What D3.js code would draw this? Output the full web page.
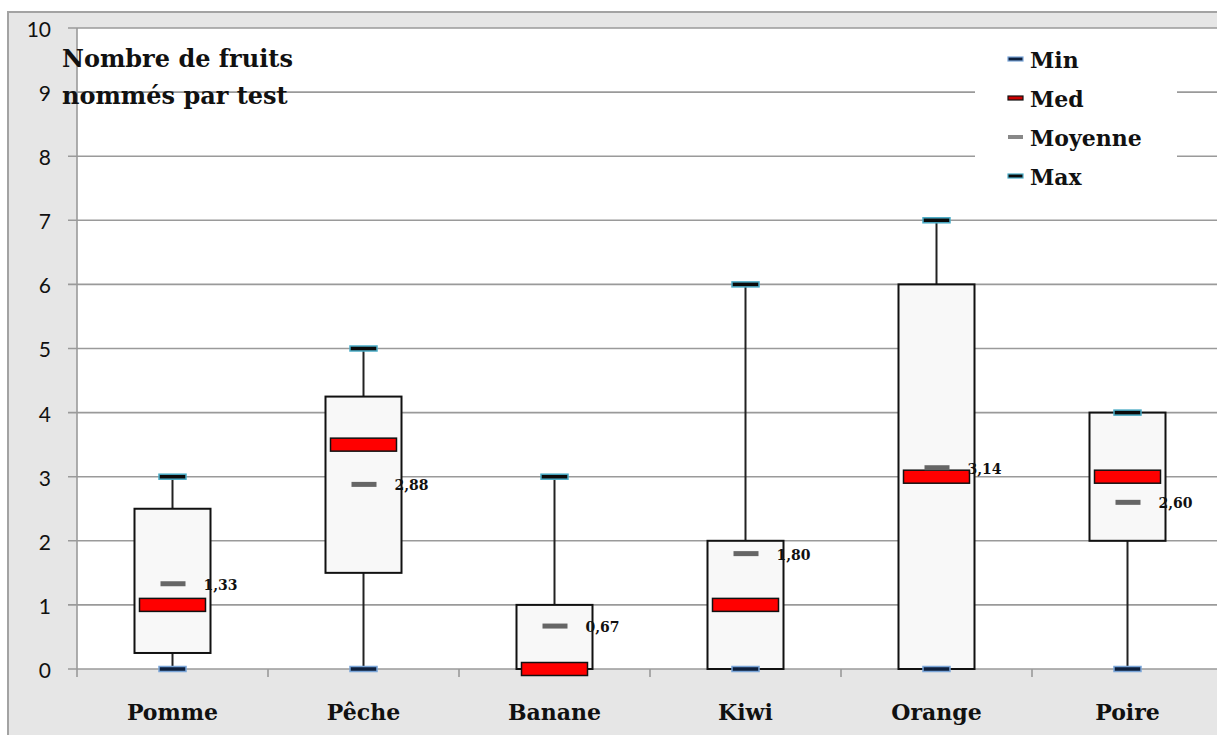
<!DOCTYPE html>
<html><head><meta charset="utf-8">
<script src="https://cdn.jsdelivr.net/npm/d3@7"></script>
<style>body{margin:0;background:#fff}svg{display:block}</style>
</head><body>
<svg id="c" width="1217" height="735"></svg>
<script>
const categories = ["Pomme","Pêche","Banane","Kiwi","Orange","Poire"];
const minVals  = [0, 0, 0, 0, 0, 0];
const q1Vals   = [0.25, 1.5, 0, 0, 0, 2];
const medVals  = [1, 3.5, 0, 1, 3, 3];
const meanVals = [1.33, 2.88, 0.67, 1.80, 3.14, 2.60];
const q3Vals   = [2.5, 4.25, 1, 2, 6, 4];
const maxVals  = [3, 5, 3, 6, 7, 4];
const yTicks = [0,1,2,3,4,5,6,7,8,9,10];
const legendLabels = ["Min","Med","Moyenne","Max"];

const svg = d3.select("#c");
const W = 1217, H = 735;
const plotL = 77, plotT = 28, plotB = 669, band = 191;
const serif = "'DejaVu Serif','Liberation Serif',serif";

// outer frame
svg.append("rect").attr("x",8).attr("y",12).attr("width",W).attr("height",H)
  .attr("fill","#e6e6e6").attr("stroke","#a3a3a3").attr("stroke-width",2);

const x = d3.scaleBand().domain(categories).range([plotL, plotL + band*categories.length]).padding(0);
const y = d3.scaleLinear().domain([0,10]).range([plotB, plotT]);

svg.append("rect").attr("x",plotL).attr("y",plotT).attr("width",W-plotL+10).attr("height",plotB-plotT).attr("fill","#fff");

// grid
svg.append("g").selectAll("line").data(yTicks).join("line")
  .attr("x1",plotL-9).attr("x2",W).attr("y1",d=>y(d)).attr("y2",d=>y(d))
  .attr("stroke","#9a9a9a").attr("stroke-width",1.6);

// y axis
const yAxis = svg.append("g").attr("transform",`translate(${plotL},0)`)
  .call(d3.axisLeft(y).tickValues(yTicks).tickSize(0).tickPadding(26).tickFormat(d3.format("d")));
yAxis.select(".domain").remove();
yAxis.selectAll("text").attr("font-family","Lato,'Open Sans',sans-serif").attr("font-size",21).attr("fill","#111").attr("dy","0.4em");
svg.append("line").attr("x1",plotL).attr("x2",plotL).attr("y1",plotT).attr("y2",plotB+8)
  .attr("stroke","#9a9a9a").attr("stroke-width",1.6);

// x axis
const xAxis = svg.append("g").attr("transform",`translate(0,${plotB})`)
  .call(d3.axisBottom(x).tickSize(0).tickPadding(35));
xAxis.select(".domain").remove();
xAxis.selectAll("text").attr("font-family",serif).attr("font-weight","bold").attr("font-size",22).attr("fill","#111");
svg.append("g").selectAll("line").data(categories.slice(1)).join("line")
  .attr("x1",d=>x(d)).attr("x2",d=>x(d)).attr("y1",plotB).attr("y2",plotB+8)
  .attr("stroke","#9a9a9a").attr("stroke-width",1.6);

const idx = d3.range(categories.length);
const cx = i => x(categories[i]) + x.bandwidth()/2;
const g = svg.append("g");

// whiskers
g.selectAll(".wt").data(idx).join("line")
  .attr("x1",cx).attr("x2",cx).attr("y1",i=>y(maxVals[i])).attr("y2",i=>y(q3Vals[i]))
  .attr("stroke","#222").attr("stroke-width",2);
g.selectAll(".wb").data(idx).join("line")
  .attr("x1",cx).attr("x2",cx).attr("y1",i=>y(q1Vals[i])).attr("y2",i=>y(minVals[i]))
  .attr("stroke","#222").attr("stroke-width",2);

// boxes
const bw = 76;
g.selectAll(".box").data(idx).join("rect")
  .attr("x",i=>cx(i)-bw/2).attr("width",bw)
  .attr("y",i=>y(q3Vals[i])).attr("height",i=>y(q1Vals[i])-y(q3Vals[i]))
  .attr("fill","#f8f8f8").attr("stroke","#111").attr("stroke-width",2);

// min caps
g.selectAll(".mn").data(idx).join("rect")
  .attr("x",i=>cx(i)-13.5).attr("width",27).attr("y",i=>y(minVals[i])-2.5).attr("height",5)
  .attr("fill","#0d1f3c").attr("stroke","#7aa5d8").attr("stroke-width",1.5);
// max caps
g.selectAll(".mx").data(idx).join("rect")
  .attr("x",i=>cx(i)-13.5).attr("width",27).attr("y",i=>y(maxVals[i])-2.5).attr("height",5)
  .attr("fill","#0a0a0a").attr("stroke","#4bacc6").attr("stroke-width",1.5);

// median bars
g.selectAll(".md").data(idx).join("rect")
  .attr("x",i=>cx(i)-33).attr("width",66).attr("y",i=>y(medVals[i])-6.5).attr("height",13)
  .attr("fill","#ff0000").attr("stroke","#111").attr("stroke-width",1.5);

// mean dashes
g.selectAll(".mean").data(idx).join("rect")
  .attr("x",i=>cx(i)-12).attr("width",25).attr("y",i=>y(meanVals[i])-2.5).attr("height",5)
  .attr("fill","#666");
g.selectAll(".ml").data(idx).join("text")
  .attr("x",i=>cx(i)+31).attr("y",i=>y(meanVals[i])+6)
  .attr("font-family",serif).attr("font-weight","bold").attr("font-size",14).attr("fill","#111")
  .text(i=>d3.format(".2f")(meanVals[i]).replace(".",","));

// title
svg.append("text").attr("font-family",serif).attr("font-weight","bold").attr("font-size",24).attr("fill","#111")
  .selectAll("tspan").data(["Nombre de fruits","nommés par test"]).join("tspan")
  .attr("x",62).attr("y",(d,i)=>67+i*37).text(d=>d);

// legend
const lg = svg.append("g");
lg.append("rect").attr("x",975).attr("y",42).attr("width",202).attr("height",150).attr("fill","#fff");
const sw = [
  {fill:"#0d1f3c",stroke:"#7aa5d8"},
  {fill:"#cc0000",stroke:"#111"},
  {fill:"#888",stroke:"none"},
  {fill:"#0a0a0a",stroke:"#4bacc6"}
];
legendLabels.forEach((t,i)=>{
  const yy = 59 + i*39;
  lg.append("rect").attr("x",1008).attr("y",yy-2).attr("width",15).attr("height",4)
    .attr("fill",sw[i].fill).attr("stroke",sw[i].stroke).attr("stroke-width",1.2);
  lg.append("text").attr("x",1030).attr("y",yy+9).attr("font-family",serif).attr("font-weight","bold")
    .attr("font-size",22).attr("fill","#111").text(t);
});
</script>
</body></html>
